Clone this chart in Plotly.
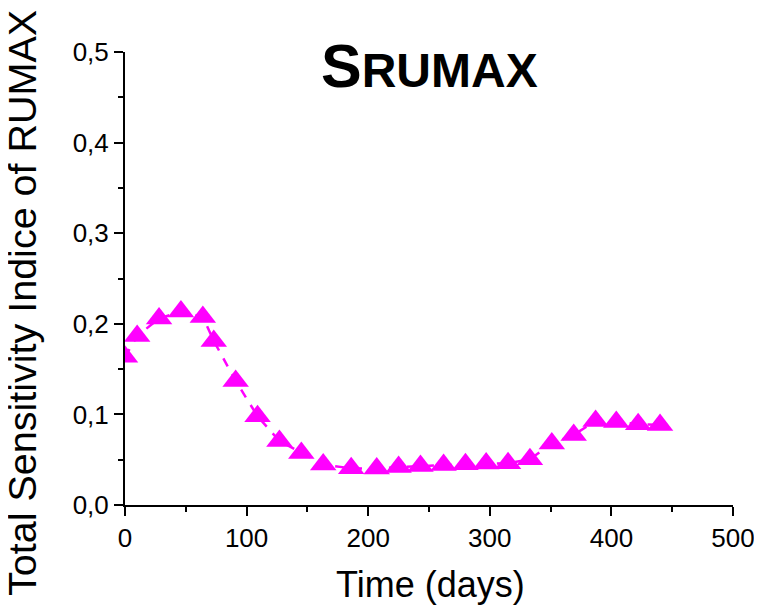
import plotly.graph_objects as go

days = [0, 10, 28, 46, 64, 73, 91, 109, 127, 145, 163, 186, 207, 225, 243,
        262, 280, 297, 315, 333, 351, 369, 387, 404, 422, 440]
sens_rumax = [0.1635, 0.1866, 0.2058, 0.2135, 0.2076, 0.1811, 0.137, 0.098,
              0.0707, 0.0575, 0.0446, 0.0405, 0.0402, 0.042, 0.0431, 0.0442,
              0.0449, 0.0457, 0.046, 0.0505, 0.0678, 0.0774, 0.0928, 0.0917,
              0.0891, 0.0884]

x_ticks = [0, 100, 200, 300, 400, 500]
y_ticks = [0.0, 0.1, 0.2, 0.3, 0.4, 0.5]

FONT = "Liberation Sans, Arial, sans-serif"
MAG = "#FF00FF"

# page body has an 8px margin; work in on-screen coordinates
OFF = 8
W, H = 762, 608
L, R, T, B = 125 - OFF, 762 - 733 + OFF, 52 - OFF, 608 - 505 + OFF
pw, ph = W - L - R, H - T - B


def px_x(p):
    return (p - OFF - L) / pw


def px_y(p):
    return (H - B - (p - OFF)) / ph


fig = go.Figure()
fig.add_trace(go.Scatter(
    x=days, y=sens_rumax, mode="lines+markers",
    line=dict(color=MAG, width=2.5, dash="dash"),
    marker=dict(symbol="triangle-up", size=23, color=MAG, line=dict(width=0)),
    cliponaxis=True, showlegend=False,
))

axis_common = dict(
    showline=True, linecolor="black", linewidth=2, mirror=False,
    ticks="outside", ticklen=9, tickwidth=2, tickcolor="black",
    showgrid=False, zeroline=False, automargin=False,
    tickfont=dict(family=FONT, size=26, color="black"),
)

fig.update_xaxes(range=[0, 500], tickvals=x_ticks,
                 minor=dict(ticks="outside", ticklen=5, tickwidth=2,
                            tickcolor="black", dtick=50, tick0=0, showgrid=False),
                 **axis_common)
fig.update_yaxes(range=[0, 0.5], tickvals=y_ticks, tickformat=".1f",
                 minor=dict(ticks="outside", ticklen=5, tickwidth=2,
                            tickcolor="black", dtick=0.05, tick0=0, showgrid=False),
                 **axis_common)

annotations = [
    dict(text="<span style='font-size:61px'>S</span>RUMAX",
         xref="paper", yref="paper", x=px_x(429), y=px_y(66),
         xanchor="center", yanchor="middle", showarrow=False,
         font=dict(family=FONT, size=48, color="black", weight="bold")),
    dict(text="Total Sensitivity Indice of RUMAX", textangle=-90,
         xref="paper", yref="paper", x=px_x(22), y=px_y(303),
         xanchor="center", yanchor="middle", showarrow=False,
         font=dict(family=FONT, size=39.5, color="black")),
    dict(text="Time (days)",
         xref="paper", yref="paper", x=px_x(430), y=px_y(584),
         xanchor="center", yanchor="middle", showarrow=False,
         font=dict(family=FONT, size=36, color="black")),
]

fig.update_layout(
    width=W, height=H,
    margin=dict(l=L, r=R, t=T, b=B, pad=0, autoexpand=False),
    paper_bgcolor="white", plot_bgcolor="white",
    separators=", ",
    annotations=annotations,
    font=dict(family=FONT, color="black"),
)

fig.write_html("out.html")
